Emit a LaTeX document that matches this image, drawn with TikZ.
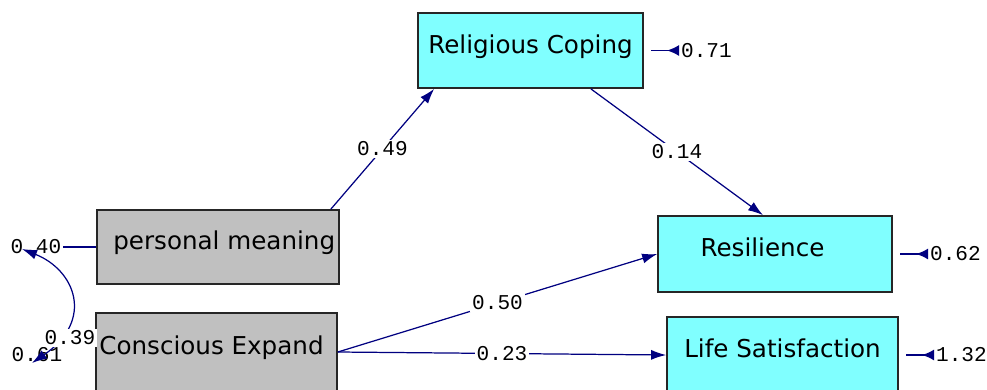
\documentclass[tikz,border=0pt]{standalone}
\usepackage{fontspec}
\setmainfont{DejaVu Sans}
\newfontfamily\estfont{Liberation Mono}
\usetikzlibrary{arrows.meta,decorations.markings}
\definecolor{pathblue}{RGB}{0,0,128}
\definecolor{boxcyan}{RGB}{128,255,255}
\definecolor{boxgray}{RGB}{192,192,192}

\begin{document}
\begin{tikzpicture}[x=0.02cm, y=-0.02cm, >={Latex[length=3mm,width=2mm]},
    endogenous/.style ={rectangle, draw=black!85, line width=1pt, fill=boxcyan, inner sep=0pt,
                        font=\fontsize{14}{16}\selectfont, text height=0.76em, text depth=0.45em},
    exogenous/.style ={endogenous, fill=boxgray},
    estimate/.style ={font=\estfont\fontsize{12}{14}\selectfont, text=black, inner sep=1pt},
    effect/.style ={color=pathblue, line width=0.7pt},
    residual/.style ={effect, line width=0.9pt, postaction={decorate},
                      decoration={markings, mark=at position 0.24cm with {\arrow{Latex[length=2.4mm,width=2.2mm]}}}}]
   \clip (0,0) rectangle (987,389);

   \node[endogenous, minimum width=4.5cm, minimum height=1.5cm] (RC) at (530.5,50.5) {Religious Coping};
   \node[endogenous, minimum width=4.68cm, minimum height=1.52cm] (RS) at (775,254) {Resilience\kern0.5cm};
   \node[endogenous, minimum width=4.62cm, minimum height=1.52cm] (LS) at (782.5,355) {Life Satisfaction};
   \node[exogenous, minimum width=4.84cm, minimum height=1.48cm] (PM) at (218,247) {\kern0.25cm personal meaning};
   \node[exogenous, minimum width=4.82cm, minimum height=1.56cm] (CE) at (216.5,352) {Conscious Expand\kern0.2cm};

   \node[estimate, anchor=west] (E71) at (679,50.5) {0.71};
   \node[estimate, anchor=west] (E62) at (928,254) {0.62};
   \node[estimate, anchor=west] (E132) at (934,355) {1.32};
   \node[estimate] (V40) at (36,247) {0.40};
   \node[estimate] (V61) at (37,355) {0.61};

   \draw[residual, shorten >=0.14cm] (E71) to (RC);
   \draw[residual, shorten >=0.14cm] (E62) to (RS);
   \draw[residual, shorten >=0.14cm] (E132) to (LS);
   \draw[effect] (V40) to (PM);

   \draw[effect, ->] ([shift={(-9,0)}]PM.north east) to node[estimate, fill=white, midway] (W49) {0.49} ([shift={(17,0)}]RC.south west);
   \draw[effect, ->] ([shift={(-53,0)}]RC.south east) to node[estimate, fill=white, midway] (W14) {0.14} ([shift={(-12,0)}]RS.north);
   \draw[effect, ->] (CE.east) to node[estimate, fill=white, midway] (W50) {0.50} (RS.west);
   \draw[effect, ->] (CE.east) to node[estimate, fill=white, midway] (W23) {0.23} (LS.west);

   \draw[effect, <->] ([shift={(-14,2)}]V40.center) .. controls (75,270) and (95,320) .. ([shift={(-5,8)}]V61.center);
   \node[estimate, fill=white] (C39) at (70,338) {0.39};
 \end{tikzpicture}
\end{document}
